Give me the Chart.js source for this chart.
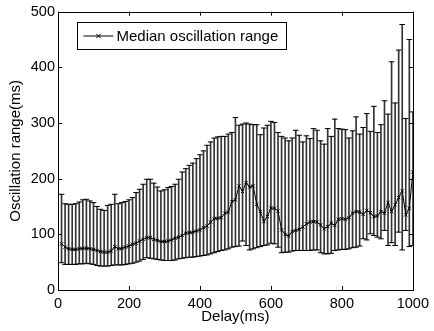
<!DOCTYPE html>
<html>
<head>
<meta charset="utf-8">
<script src="https://cdn.jsdelivr.net/npm/chart.js@4.4.1/dist/chart.umd.min.js"></script>
<style>
html,body{margin:0;padding:0;background:#fff;}
canvas{display:block;}
</style>
</head>
<body>
<canvas id="c" width="434" height="331"></canvas>
<script>
const delay = [10,20,30,40,50,60,70,80,90,100,110,120,130,140,150,160,170,180,190,200,210,220,230,240,250,260,270,280,290,300,310,320,330,340,350,360,370,380,390,400,410,420,430,440,450,460,470,480,490,500,510,520,530,540,550,560,570,580,590,600,610,620,630,640,650,660,670,680,690,700,710,720,730,740,750,760,770,780,790,800,810,820,830,840,850,860,870,880,890,900,910,920,930,940,950,960,970,980,990,1000];
const medianRange = [83,77,74,73,73,74,75,75,74,73,71,69,68,68,70,78,74,75,77,79,82,84,88,91,94,94,91,89,87,87,88,90,93,95,98,102,103,104,106,108,112,115,122,128,129,130,138,140,159,162,187,177,193,185,187,154,141,123,132,147,147,142,108,100,97,105,107,109,113,119,122,123,122,117,110,114,120,116,127,128,127,130,138,141,140,136,143,139,132,133,141,138,157,141,153,166,178,135,147,212];
const upperRange = [172,155,154,154,155,158,162,163,160,157,150,145,143,152,154,172,155,157,159,162,166,175,181,190,199,199,192,185,178,180,184,186,190,199,212,218,224,228,236,243,250,260,266,273,275,276,276,280,283,310,296,298,300,298,297,297,279,291,296,303,301,283,276,273,268,273,287,278,266,277,272,290,287,268,262,290,276,307,290,289,288,273,286,311,280,292,317,285,330,283,297,340,316,410,336,431,477,308,450,320];
const lowerRange = [49,46,46,46,46,47,47,48,47,46,44,43,43,43,44,45,45,45,46,47,48,50,52,55,58,57,56,55,54,53,53,53,54,56,57,58,59,59,60,61,62,63,65,67,69,71,72,74,77,78,79,88,80,72,74,76,78,80,81,84,83,77,67,68,68,70,71,71,71,71,71,72,72,67,65,65,66,71,72,73,73,74,76,77,79,92,90,101,98,95,92,107,80,85,80,104,72,107,78,80];
const xTicks = [0,200,400,600,800,1000];
const yTicks = [0,100,200,300,400,500];
const legendLabel = 'Median oscillation range';
const xTitle = 'Delay(ms)';
const yTitle = 'Oscillation range(ms)';

Chart.defaults.font.family = '"Liberation Sans", Arial, Helvetica, sans-serif';
Chart.defaults.color = '#000';

const framePlugin = {
  id: 'frame',
  afterDraw(chart) {
    const ctx = chart.ctx;
    const a = chart.chartArea;
    const xs = chart.scales.x, ys = chart.scales.y;
    ctx.save();
    ctx.strokeStyle = '#000';
    ctx.lineWidth = 1;
    ctx.strokeRect(Math.round(a.left) + 0.5, Math.round(a.top) + 0.5, Math.round(a.right - a.left), Math.round(a.bottom - a.top));
    const tl = 4;
    ctx.beginPath();
    xTicks.forEach(v => {
      const px = Math.round(xs.getPixelForValue(v)) + 0.5;
      ctx.moveTo(px, a.bottom); ctx.lineTo(px, a.bottom - tl);
      ctx.moveTo(px, a.top); ctx.lineTo(px, a.top + tl);
    });
    yTicks.forEach(v => {
      const py = Math.round(ys.getPixelForValue(v)) + 0.5;
      ctx.moveTo(a.left, py); ctx.lineTo(a.left + tl, py);
      ctx.moveTo(a.right, py); ctx.lineTo(a.right - tl, py);
    });
    ctx.stroke();
    // legend
    const bx = 77.5, by = 22.5, bw = 209, bh = 27;
    ctx.fillStyle = '#fff';
    ctx.fillRect(bx, by, bw, bh);
    ctx.strokeRect(bx, by, bw, bh);
    const ly = by + bh / 2;
    ctx.beginPath();
    ctx.moveTo(bx + 6, ly); ctx.lineTo(bx + 36, ly);
    const mx = bx + 21, r = 2.2;
    ctx.moveTo(mx - r, ly - r); ctx.lineTo(mx + r, ly + r);
    ctx.moveTo(mx - r, ly + r); ctx.lineTo(mx + r, ly - r);
    ctx.stroke();
    ctx.fillStyle = '#000';
    ctx.font = '15px "Liberation Sans", Arial, sans-serif';
    ctx.textBaseline = 'middle';
    ctx.textAlign = 'left';
    ctx.fillText(legendLabel, bx + 39, ly + 1);
    ctx.restore();
  }
};

new Chart(document.getElementById('c'), {
  type: 'bar',
  data: {
    datasets: [
      {
        type: 'line',
        label: legendLabel,
        data: delay.map((d, i) => ({x: d, y: medianRange[i]})),
        borderColor: '#000',
        borderWidth: 1,
        pointStyle: 'crossRot',
        pointRadius: 2.3,
        pointBorderWidth: 1,
        pointBorderColor: '#000',
        tension: 0,
        order: 0
      },
      {
        type: 'line',
        label: 'upper',
        data: delay.map((d, i) => ({x: d, y: upperRange[i]})),
        showLine: false,
        pointStyle: 'line',
        pointRadius: 2.8,
        pointBorderWidth: 1,
        pointBorderColor: '#000',
        order: 1
      },
      {
        type: 'line',
        label: 'lower',
        data: delay.map((d, i) => ({x: d, y: lowerRange[i]})),
        showLine: false,
        pointStyle: 'line',
        pointRadius: 2.8,
        pointBorderWidth: 1,
        pointBorderColor: '#000',
        order: 1
      },
      {
        type: 'bar',
        label: 'range',
        data: delay.map((d, i) => ({x: d, y: [lowerRange[i], upperRange[i]]})),
        backgroundColor: '#333',
        barThickness: 1,
        grouped: false,
        order: 2
      }
    ]
  },
  options: {
    responsive: false,
    animation: false,
    events: [],
    layout: {padding: {top: 8, right: 19, left: 0, bottom: 0}},
    plugins: {legend: {display: false}, tooltip: {enabled: false}},
    scales: {
      x: {
        type: 'linear',
        min: 0, max: 1000,
        offset: false,
        grid: {display: false, drawTicks: false},
        border: {display: false},
        afterBuildTicks(s) { s.ticks = xTicks.map(v => ({value: v})); },
        afterFit(s) { s.height = 41; },
        ticks: {padding: 5, font: {size: 14.5}, maxRotation: 0, autoSkip: false, callback: v => String(v)},
        title: {display: true, text: xTitle, font: {size: 15}, padding: {top: 0, bottom: 5}}
      },
      y: {
        min: 0, max: 500,
        grid: {display: false, drawTicks: false},
        border: {display: false},
        afterBuildTicks(s) { s.ticks = yTicks.map(v => ({value: v})); },
        afterFit(s) { s.width = 58; },
        ticks: {padding: 3, font: {size: 14.5}, callback: v => String(v)},
        title: {display: true, text: yTitle, font: {size: 15}, padding: {top: 7, bottom: 0}}
      }
    }
  },
  plugins: [framePlugin]
});
</script>
</body>
</html>
